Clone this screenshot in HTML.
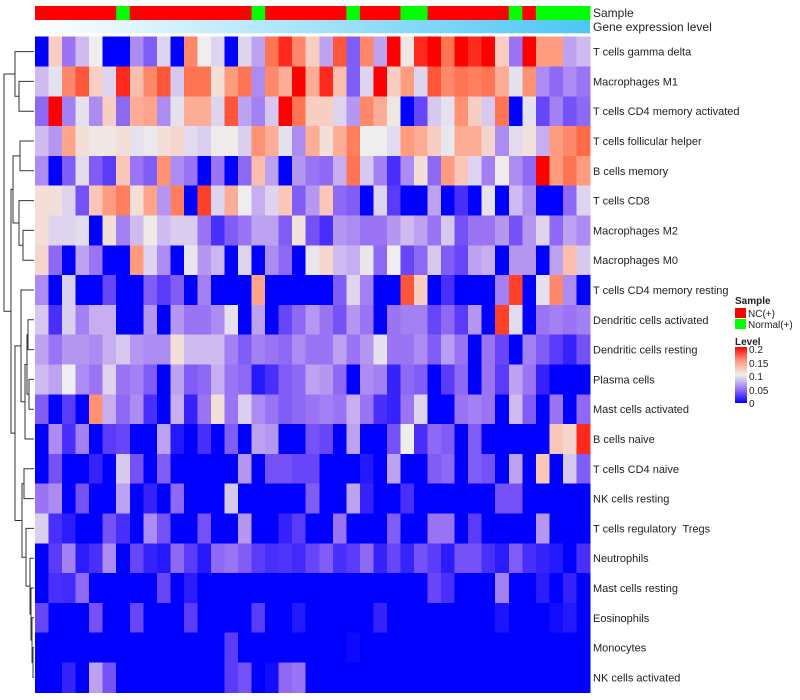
<!DOCTYPE html>
<html><head><meta charset="utf-8"><style>
html,body{margin:0;padding:0;background:#fff;}
svg{display:block;font-family:"Liberation Sans",sans-serif;}
#rowlabels text{white-space:pre;}
</style></head><body>
<svg id="chart" width="800" height="700" viewBox="0 0 800 700" xmlns="http://www.w3.org/2000/svg">
<defs>
<linearGradient id="geneGrad" x1="0" x2="1" y1="0" y2="0"><stop offset="0" stop-color="#ffffff"/><stop offset="1" stop-color="#4cc6f6"/></linearGradient>
<linearGradient id="levelGrad" x1="0" x2="0" y1="1" y2="0">
<stop offset="0" stop-color="#0000ff"/><stop offset="0.25" stop-color="#9a74f4"/><stop offset="0.5" stop-color="#eeeeee"/><stop offset="0.75" stop-color="#ff9c80"/><stop offset="1" stop-color="#ff0000"/></linearGradient>
</defs>
<g id="sample-bar"></g>
<rect x="35" y="20" width="555" height="13.3" fill="url(#geneGrad)"/>
<text x="593" y="17" font-size="12" fill="#222">Sample</text>
<text x="593" y="31" font-size="12" fill="#222">Gene expression level</text>
<g id="cells" shape-rendering="crispEdges"></g>
<g id="rowlabels"></g>
<g id="dendro" stroke="#333" stroke-width="1" fill="none"></g>
<g font-size="10" fill="#222">
<text x="735" y="304" font-weight="bold">Sample</text>
<rect x="735" y="308" width="11" height="10" fill="#ff0000"/>
<text x="748" y="317">NC(+)</text>
<rect x="735" y="319" width="11" height="10" fill="#00ff00"/>
<text x="748" y="328">Normal(+)</text>
<text x="735" y="345" font-weight="bold">Level</text>
<rect x="735" y="347" width="12" height="56" fill="url(#levelGrad)"/>
<text x="749" y="353">0.2</text>
<text x="749" y="367">0.15</text>
<text x="749" y="380">0.1</text>
<text x="749" y="394">0.05</text>
<text x="749" y="407">0</text>
</g>
</svg>
<script>
const rowNames = ["T cells gamma delta","Macrophages M1","T cells CD4 memory activated","T cells follicular helper","B cells memory","T cells CD8","Macrophages M2","Macrophages M0","T cells CD4 memory resting","Dendritic cells activated","Dendritic cells resting","Plasma cells","Mast cells activated","B cells naive","T cells CD4 naive","NK cells resting","T cells regulatory  Tregs","Neutrophils","Mast cells resting","Eosinophils","Monocytes","NK cells activated"];
const sampleGroups = ["NC","NC","NC","NC","NC","NC","N","NC","NC","NC","NC","NC","NC","NC","NC","NC","N","NC","NC","NC","NC","NC","NC","N","NC","NC","NC","N","N","NC","NC","NC","NC","NC","NC","N","NC","N","N","N","N"];
const r0 = [0,0.12,0.05,0.08,0.1,0,0,0.06,0.04,0.09,0,0.16,0.1,0.09,0,0.09,0.07,0.17,0.19,0.16,0.12,0.07,0.18,0.04,0.16,0.07,0.2,0.105,0.19,0.2,0.17,0.2,0.19,0.2,0.12,0.05,0.2,0.15,0.15,0.07,0.08];
const r1 = [0.08,0.095,0.16,0.18,0.12,0.09,0.19,0.13,0.16,0.18,0.085,0.17,0.17,0.11,0.15,0.17,0.06,0.16,0.14,0.2,0.14,0.19,0.13,0.04,0.09,0.2,0.12,0.15,0.09,0.18,0.16,0.17,0.165,0.17,0.14,0.095,0.155,0.06,0.045,0.06,0.05];
const r2 = [0.045,0.2,0.055,0.095,0.06,0.12,0.045,0.14,0.145,0.06,0.095,0.14,0.14,0.09,0.18,0.07,0.055,0.085,0.2,0.17,0.12,0.12,0.09,0.065,0.16,0.14,0.105,0,0.03,0.085,0.095,0.155,0.12,0.085,0.17,0,0.095,0.03,0.055,0.035,0.045];
const r3 = [0.08,0.065,0.145,0.11,0.105,0.105,0.11,0.095,0.098,0.11,0.115,0.092,0.088,0.102,0.102,0.088,0.155,0.14,0.095,0.06,0.14,0.11,0.14,0.165,0.1,0.1,0.092,0.15,0.14,0.12,0.097,0.14,0.14,0.115,0.06,0.093,0.108,0.075,0.15,0.16,0.175];
const r4 = [0.06,0,0.04,0.092,0.04,0.025,0.125,0.05,0.04,0.155,0.06,0.05,0,0.05,0,0.045,0.13,0.07,0,0.065,0.05,0.045,0.075,0.17,0.085,0.055,0.02,0.06,0.11,0.045,0.15,0.125,0.09,0.055,0.102,0.06,0.045,0.2,0.15,0.17,0.15];
const r5 = [0.11,0.11,0.09,0.035,0.125,0.15,0.165,0.11,0.145,0.065,0.165,0,0.185,0.09,0.14,0.1,0.075,0.09,0.125,0.04,0.065,0.125,0.045,0.04,0,0.09,0.025,0,0,0.07,0,0.02,0,0.095,0,0.08,0.06,0,0,0.045,0.09];
const r6 = [0.11,0.09,0.09,0.093,0,0.11,0.055,0.08,0.103,0.08,0.087,0.087,0.05,0.02,0.04,0.05,0.07,0.07,0.04,0.108,0.035,0.02,0.065,0.06,0.05,0.05,0.065,0.08,0.07,0.05,0.085,0.035,0.05,0.05,0.065,0.035,0.065,0.09,0.045,0.07,0.06];
const r7 = [0.115,0.045,0,0.07,0.05,0,0,0.15,0.09,0.06,0,0.097,0.065,0.078,0,0.09,0,0.06,0.045,0,0.097,0.115,0.08,0.075,0.097,0.045,0.1,0.03,0.045,0.085,0.04,0.03,0.07,0.075,0,0.065,0.065,0,0.07,0.13,0.085];
const r8 = [0.06,0,0.088,0,0,0.03,0,0,0.04,0.025,0.04,0,0.055,0,0,0,0.145,0,0,0,0,0,0.04,0.09,0.055,0,0,0.18,0.12,0,0.02,0,0,0,0.055,0.185,0,0.095,0.16,0.06,0];
const r9 = [0.085,0.02,0.088,0.055,0.075,0.075,0,0,0.065,0,0.065,0.05,0.05,0.06,0.095,0,0.07,0,0.03,0.045,0.065,0.05,0.035,0.065,0.05,0,0.05,0.055,0.055,0.03,0.045,0.025,0.065,0,0.185,0.092,0,0.05,0.055,0.05,0.055];
const r10 = [0.07,0.05,0.065,0.065,0.06,0.075,0.085,0.065,0.06,0.06,0.11,0.08,0.08,0.08,0.055,0.04,0.055,0.05,0.045,0.06,0.05,0.05,0.07,0.05,0.065,0.095,0.05,0.05,0.06,0.04,0.068,0.05,0,0.05,0.03,0,0.055,0.04,0.025,0.015,0.035];
const r11 = [0.08,0.07,0.1,0.06,0.05,0.09,0.05,0.055,0.04,0,0.07,0.04,0.045,0.075,0.05,0.045,0.01,0.02,0.04,0.045,0.07,0.065,0.045,0,0.06,0.055,0.015,0.045,0.04,0,0.025,0.045,0,0.05,0.025,0.07,0.05,0.015,0,0,0];
const r12 = [0.04,0,0.025,0,0.155,0.075,0.045,0.06,0.02,0,0.075,0.015,0.05,0.11,0.05,0.088,0.06,0.05,0.04,0.045,0.05,0.055,0.05,0.075,0.05,0.02,0.015,0.05,0.09,0,0,0.05,0.055,0.05,0,0.08,0.04,0,0.05,0,0.045];
const r13 = [0,0.06,0.02,0.055,0,0.025,0.03,0,0,0.07,0.01,0,0.02,0,0.04,0,0.07,0.065,0,0,0.035,0.03,0,0.07,0,0,0.035,0.1,0.02,0.045,0.04,0,0.04,0,0,0,0,0,0.125,0.115,0.19];
const r14 = [0,0.035,0,0,0.015,0,0.085,0.035,0,0.04,0,0,0,0,0,0.065,0,0.035,0.035,0.03,0.03,0,0,0,0.01,0,0.07,0,0,0.04,0.045,0,0.04,0.035,0,0.07,0,0.125,0,0.085,0.04];
const r15 = [0.05,0.06,0,0.035,0,0,0.07,0,0.015,0,0.045,0,0,0,0.085,0,0,0,0,0,0.04,0,0,0.07,0.015,0,0,0.02,0,0,0,0,0,0,0.035,0.035,0,0,0,0,0];
const r16 = [0.088,0.02,0.012,0,0,0.035,0.02,0,0.06,0.035,0,0,0.035,0,0,0.065,0,0,0.015,0.025,0,0,0.05,0,0,0,0.04,0,0,0.05,0.05,0,0.025,0,0,0,0,0.065,0,0,0];
const r17 = [0,0.025,0.055,0.012,0.02,0.06,0,0.03,0.015,0.01,0.045,0.025,0.01,0.045,0.05,0.04,0.025,0.02,0.022,0.018,0.03,0.04,0.02,0.025,0.045,0.015,0.03,0.015,0.035,0.025,0.012,0.035,0.035,0.02,0.012,0.04,0.02,0.015,0.01,0,0.02];
const r18 = [0,0.02,0.018,0.045,0,0,0,0,0,0.03,0,0.012,0,0,0,0,0,0,0,0,0,0,0,0,0,0,0,0,0,0.03,0.02,0,0,0,0.055,0,0,0.012,0,0.015,0];
const r19 = [0.03,0,0,0,0.035,0,0,0.03,0,0,0,0.025,0,0,0,0,0.025,0,0,0.01,0,0,0,0,0,0.015,0,0,0,0,0,0,0,0,0.008,0,0,0,0.005,0.01,0];
const r20 = [0,0,0,0,0,0,0,0,0,0,0,0,0,0,0.025,0,0,0,0,0,0,0,0,0.004,0,0,0,0,0,0,0,0,0,0,0,0,0,0,0,0,0];
const r21 = [0,0,0.015,0,0.07,0.035,0,0,0,0,0,0,0,0,0.025,0.035,0,0.005,0.045,0.05,0,0,0,0,0,0,0,0,0,0,0,0,0,0,0,0,0,0,0,0,0];
const values = [r0,r1,r2,r3,r4,r5,r6,r7,r8,r9,r10,r11,r12,r13,r14,r15,r16,r17,r18,r19,r20,r21];
const legendTicks = ["0","0.05","0.1","0.15","0.2"];

const NS = "http://www.w3.org/2000/svg";
const X0 = 35, X1 = 590, Y0 = 36.7, Y1 = 692.3;
const nCols = sampleGroups.length, nRows = rowNames.length;
const cw = (X1 - X0) / nCols, rh = (Y1 - Y0) / nRows;
function xPos(i){ return X0 + i * cw; }
function yPos(j){ return Y0 + j * rh; }
const stops = [[0,[0,0,255]],[0.025,[90,59,250]],[0.05,[154,116,244]],[0.075,[199,174,241]],[0.1,[238,238,238]],[0.125,[250,198,184]],[0.15,[255,156,128]],[0.175,[255,106,72]],[0.2,[255,0,0]]];
function colorOf(v){
  v = Math.max(0, Math.min(0.2, v));
  for (let k = 0; k < stops.length - 1; k++) {
    const a = stops[k], b = stops[k+1];
    if (v <= b[0]) {
      const t = (v - a[0]) / (b[0] - a[0]);
      const c = a[1].map((q, i) => Math.round(q + (b[1][i] - q) * t));
      return "rgb(" + c.join(",") + ")";
    }
  }
  return "rgb(255,0,0)";
}
function mk(tag, attrs, parent){
  const el = document.createElementNS(NS, tag);
  for (const k in attrs) el.setAttribute(k, attrs[k]);
  parent.appendChild(el);
  return el;
}
const sampleG = document.getElementById("sample-bar");
sampleGroups.forEach((g, i) => {
  const el = mk("rect", {x: xPos(i), y: 6, width: cw + 0.5, height: 14, fill: g === "NC" ? "#ff0000" : "#00ff00"}, sampleG);
  
  
});
const cellsG = document.getElementById("cells");
values.forEach((row, j) => {
  row.forEach((v, i) => {
    const el = mk("rect", {x: xPos(i), y: yPos(j), width: cw + 0.5, height: rh + 0.5, fill: colorOf(v)}, cellsG);
    
    
  });
});
const labG = document.getElementById("rowlabels");
rowNames.forEach((n, j) => {
  const el = mk("text", {x: 593, y: yPos(j) + rh / 2 + 4, "font-size": 11, fill: "#222"}, labG);
  el.textContent = n;
  
  
});
const tree = [4,
  [15, 0, [19, 1, 2]],
  [11,
    [13, [20, 3, 4], [19, 5, [23, 6, 7]]],
    [15,
      [21, 8, [25, [27, [28, 9, 10], [29, 11, 12]], 13]],
      [22, [24, 14, 15], [26, 16, [30, 17, [31, 18, [32, 19, [33, 20, 21]]]]]]]]];
const dG = document.getElementById("dendro");
function draw(node){
  if (typeof node === "number") return {x: 34, y: yPos(node) + rh / 2};
  const a = draw(node[1]), b = draw(node[2]);
  const x = node[0];
  const el = mk("path", {d: "M" + a.x + "," + a.y + "H" + x + "V" + b.y + "H" + b.x}, dG);
  
  
  return {x: x, y: (a.y + b.y) / 2};
}
const root = draw(tree);
</script>
</body></html>
